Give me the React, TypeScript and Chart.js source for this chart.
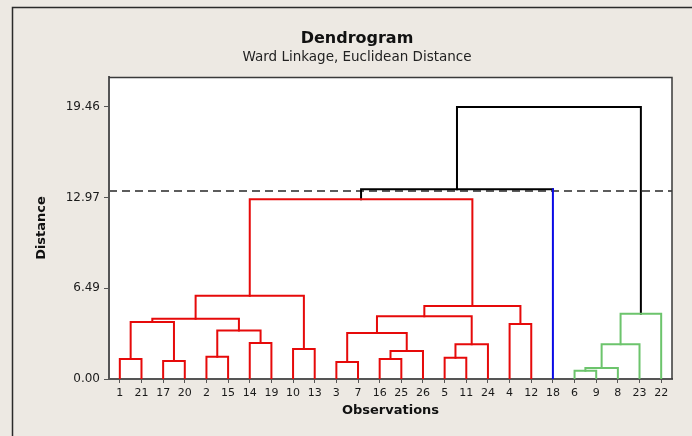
import React, { useEffect, useRef } from 'react';
import { Chart, registerables } from 'chart.js';

Chart.register(...registerables);

// ---- data ----
const leafLabels = ['1', '21', '17', '20', '2', '15', '14', '19', '10', '13', '3', '7', '16', '25', '26', '5', '11', '24', '4', '12', '18', '6', '9', '8', '23', '22'];
// merge k (1-based, "m<k>") joins mergeA[k-1] and mergeB[k-1] at mergeHeight[k-1]
const mergeA = ['1', '17', 'm1', '2', '14', 'm4', 'm3', '10', 'm7', '3', '16', 'm11', 'm10', '5', 'm14', 'm13', '4', 'm16', 'm9', 'm19', '6', 'm21', 'm22', 'm23', 'm20'];
const mergeB = ['21', '20', 'm2', '15', '19', 'm5', 'm6', '13', 'm8', '7', '25', '26', 'm12', '11', '24', 'm15', '12', 'm17', 'm18', '18', '9', '8', '23', '22', 'm24'];
const mergeHeight = [1.43, 1.29, 4.08, 1.6, 2.58, 3.46, 4.31, 2.15, 5.96, 1.22, 1.43, 2.0, 3.29, 1.52, 2.48, 4.49, 3.93, 5.22, 12.86, 13.57, 0.59, 0.79, 2.48, 4.67, 19.46];
const yTickValues = [0, 6.49, 12.97, 19.46];
const yMax = 21.6;
const cutHeight = 13.45;

const chartTitle = 'Dendrogram';
const chartSubtitle = 'Ward Linkage, Euclidean Distance';
const xAxisTitle = 'Observations';
const yAxisTitle = 'Distance';

// ---- styles ----
const BG = '#ede9e3';
const PALETTE = ['#e60a0a', '#0a0ae6', '#6cc46c'];
const ABOVE = '#000000';
const FONT = '"DejaVu Sans", Verdana, sans-serif';

function buildTree() {
  const x: Record<string, number> = {};
  const h: Record<string, number> = {};
  const parent: Record<string, string> = {};
  leafLabels.forEach((l, i) => {
    x[l] = i;
    h[l] = 0;
  });
  mergeHeight.forEach((ht, i) => {
    const id = 'm' + (i + 1);
    const a = mergeA[i];
    const b = mergeB[i];
    x[id] = (x[a] + x[b]) / 2;
    h[id] = ht;
    parent[a] = id;
    parent[b] = id;
  });
  const nodes = Object.keys(h);
  const roots = nodes.filter((n) => h[n] < cutHeight && (!parent[n] || h[parent[n]] >= cutHeight));
  roots.sort((p, q) => x[p] - x[q]);
  const rootColor: Record<string, string> = {};
  roots.forEach((r, i) => {
    rootColor[r] = PALETTE[i % PALETTE.length];
  });
  const color = (n: string): string => {
    if (h[n] >= cutHeight) return ABOVE;
    let c = n;
    while (!(c in rootColor)) c = parent[c];
    return rootColor[c];
  };
  return { x, h, color };
}

export default function App() {
  const canvasRef = useRef<HTMLCanvasElement | null>(null);

  useEffect(() => {
    const canvas = canvasRef.current;
    if (!canvas) return;
    const { x, h, color } = buildTree();
    const isLeaf = (n: string) => !n.startsWith('m');

    const linkDatasets = mergeHeight.map((ht, i) => {
      const id = 'm' + (i + 1);
      const a = mergeA[i];
      const b = mergeB[i];
      const segColors = [isLeaf(a) ? color(a) : color(id), color(id), isLeaf(b) ? color(b) : color(id)];
      return {
        label: id,
        data: [
          { x: x[a], y: h[a] },
          { x: x[a], y: ht },
          { x: x[b], y: ht },
          { x: x[b], y: h[b] },
        ],
        showLine: true,
        pointRadius: 0,
        pointHoverRadius: 0,
        borderWidth: 2,
        borderColor: segColors[1],
        borderCapStyle: 'square',
        borderJoinStyle: 'miter',
        segment: { borderColor: (ctx: any) => segColors[ctx.p0DataIndex] },
        tension: 0,
        fill: false,
      };
    });

    const cutDataset = {
      label: 'cut',
      data: [
        { x: -0.5, y: cutHeight },
        { x: leafLabels.length - 0.5, y: cutHeight },
      ],
      showLine: true,
      pointRadius: 0,
      borderWidth: 2,
      borderColor: '#5c5c5c',
      borderDash: [8, 5],
      fill: false,
    };

    const framePlugin = {
      id: 'frame',
      beforeDraw(chart: any) {
        const { ctx, chartArea } = chart;
        ctx.save();
        ctx.fillStyle = BG;
        ctx.fillRect(0, 0, chart.width, chart.height);
        ctx.fillStyle = '#ffffff';
        ctx.fillRect(chartArea.left, chartArea.top, chartArea.right - chartArea.left, chartArea.bottom - chartArea.top);
        ctx.strokeStyle = '#2a2a2a';
        ctx.lineWidth = 1.5;
        ctx.beginPath();
        ctx.moveTo(12.5, chart.height);
        ctx.lineTo(12.5, 7.5);
        ctx.lineTo(chart.width, 7.5);
        ctx.stroke();
        ctx.restore();
      },
      afterDraw(chart: any) {
        const { ctx, chartArea } = chart;
        ctx.save();
        ctx.strokeStyle = '#3a3a3a';
        ctx.lineWidth = 1.5;
        ctx.beginPath();
        ctx.moveTo(chartArea.left, chartArea.top + 0.5);
        ctx.lineTo(chartArea.right, chartArea.top + 0.5);
        ctx.lineTo(chartArea.right, chartArea.bottom);
        ctx.stroke();
        ctx.fillStyle = '#111111';
        ctx.textAlign = 'center';
        ctx.textBaseline = 'middle';
        ctx.font = 'bold 16px ' + FONT;
        ctx.fillText(chartTitle, 357, 39);
        ctx.font = '13.5px ' + FONT;
        ctx.fillStyle = '#222222';
        ctx.fillText(chartSubtitle, 357, 57);
        ctx.restore();
      },
    };

    Chart.defaults.font.family = FONT;

    const chart = new Chart(canvas, {
      type: 'scatter',
      data: { datasets: [...linkDatasets, cutDataset] as any },
      options: {
        animation: false,
        responsive: false,
        maintainAspectRatio: false,
        layout: { padding: { left: 0, right: 20, top: 77, bottom: 0 } },
        plugins: {
          legend: { display: false },
          tooltip: { enabled: false },
          title: { display: false },
        },
        scales: {
          x: {
            type: 'linear',
            min: -0.5,
            max: leafLabels.length - 0.5,
            afterBuildTicks: (s: any) => {
              s.ticks = leafLabels.map((_, i) => ({ value: i }));
            },
            afterFit: (s: any) => {
              s.height = 57;
            },
            ticks: {
              autoSkip: false,
              maxRotation: 0,
              minRotation: 0,
              padding: 4,
              color: '#1a1a1a',
              font: { size: 11 },
              callback: (v: any) => leafLabels[Math.round(Number(v))],
            },
            grid: { display: true, drawOnChartArea: false, drawTicks: true, tickLength: 4, color: '#555555' },
            border: { display: true, color: '#555555', width: 2 },
            title: {
              display: true,
              text: xAxisTitle,
              color: '#111111',
              font: { size: 13, weight: 'bold' },
              padding: { top: 0, bottom: 18 },
            },
          },
          y: {
            type: 'linear',
            min: 0,
            max: yMax,
            afterBuildTicks: (s: any) => {
              s.ticks = yTickValues.map((v) => ({ value: v }));
            },
            afterFit: (s: any) => {
              s.width = 109;
            },
            ticks: {
              padding: 4,
              color: '#1a1a1a',
              font: { size: 12 },
              callback: (v: any) => Number(v).toFixed(2),
            },
            grid: { display: true, drawOnChartArea: false, drawTicks: true, tickLength: 5, color: '#555555' },
            border: { display: true, color: '#555555', width: 2 },
            title: {
              display: true,
              text: yAxisTitle,
              color: '#111111',
              font: { size: 13, weight: 'bold' },
              padding: { top: 34, bottom: 0 },
            },
          },
        },
      } as any,
      plugins: [framePlugin],
    });

    return () => {
      chart.destroy();
    };
  }, []);

  return (
    <div style={{ position: 'fixed', left: 0, top: 0, width: 692, height: 436, background: BG }}>
      <canvas ref={canvasRef} width={692} height={436} style={{ display: 'block', width: 692, height: 436 }} />
    </div>
  );
}
